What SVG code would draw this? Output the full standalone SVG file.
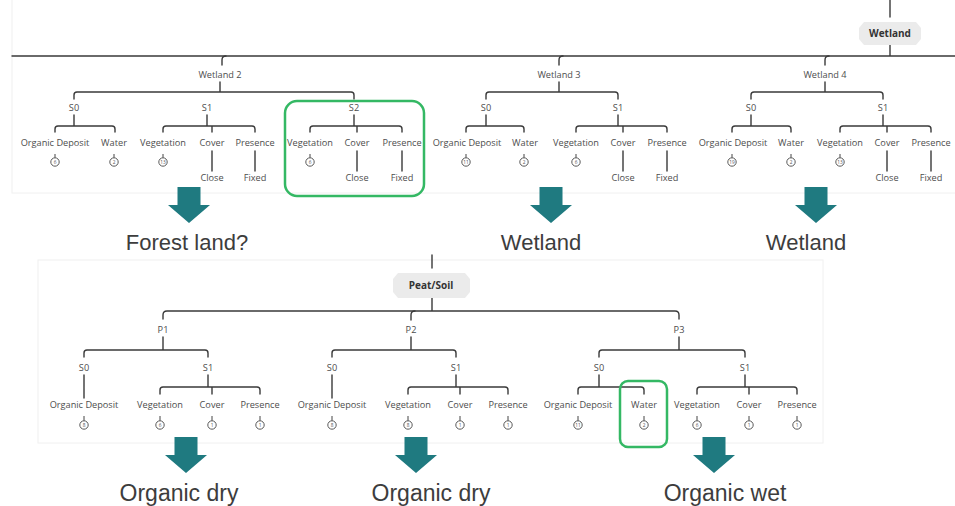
<svg xmlns="http://www.w3.org/2000/svg" xmlns:xlink="http://www.w3.org/1999/xlink" width="955" height="506" viewBox="0 0 955 506">
<style>
.ln{fill:none;stroke:#3a3a3a;stroke-width:1.4;stroke-linecap:round}
.lbl{font-family:"Open Sans","Liberation Sans",sans-serif;font-size:9.2px;fill:#4d4d4d;text-anchor:middle}
.num line{stroke:#444;stroke-width:1}
.num circle{fill:#fff;stroke:#5a5a5a;stroke-width:1}
.nt{font-family:"Open Sans","Liberation Sans",sans-serif;font-size:4.8px;fill:#555;text-anchor:middle}
.hex{fill:#ebebeb}
.hl{font-family:"Open Sans","Liberation Sans",sans-serif;font-weight:700;font-size:10px;fill:#333;text-anchor:middle}
.arrow{fill:#1f7a80}
.big{font-family:"Liberation Sans",Arial,sans-serif;font-size:22px;fill:#3d3d3d;text-anchor:middle}
.big2{font-family:"Liberation Sans",Arial,sans-serif;font-size:23px;fill:#3d3d3d;text-anchor:middle}
.hi{fill:none;stroke:#34b864;stroke-width:2.5}
.panel{fill:#fff;stroke:#f0f0f0;stroke-width:1}
</style>
<defs>
<polygon id="arr" points="-11.5,0 11.5,0 11.5,18 21,18 0,36 -21,18 -11.5,18"/>
</defs>
<rect width="955" height="506" fill="#fff"/>
<rect class="panel" x="12" y="-1" width="944" height="194"/>
<rect class="panel" x="38" y="260" width="785" height="183"/>

<!-- connectors -->
<g id="connectors" class="ln">
<!-- wetland tree -->
<path d="M890 0V17M890 45V56M12 56H955"/>
<path d="M226 56Q222 56 222 60V65M563 56Q559 56 559 60V65M829 56Q825 56 825 60V65"/>
<!-- Wetland 2 -->
<path d="M220 82V92M74 99V95Q74 92 77 92H351Q354 92 354 95V99"/>
<path d="M74 115V126M55 132V129Q55 126 58 126H112Q115 126 115 129V132"/>
<path d="M207 115V126M163 132V129Q163 126 166 126H252Q255 126 255 129V132M212 126V132"/>
<path d="M354 115V126M310 132V129Q310 126 313 126H399Q402 126 402 129V132M357 126V132"/>
<path d="M212 151V171M255 151V171M357 151V171M402 151V171"/>
<!-- Wetland 3 -->
<path d="M559 82V92M486 99V95Q486 92 489 92H615Q618 92 618 95V99"/>
<path d="M486 115V126M466 132V129Q466 126 469 126H521Q524 126 524 129V132"/>
<path d="M618 115V126M576 132V129Q576 126 579 126H664Q667 126 667 129V132M623 126V132"/>
<path d="M623 151V171M667 151V171"/>
<!-- Wetland 4 -->
<path d="M825 82V92M751 99V95Q751 92 754 92H880Q883 92 883 95V99"/>
<path d="M751 115V126M732 132V129Q732 126 735 126H788Q791 126 791 129V132"/>
<path d="M883 115V126M840 132V129Q840 126 843 126H928Q931 126 931 129V132M887 126V132"/>
<path d="M887 151V171M931 151V171"/>
<!-- peat/soil tree -->
<path d="M432 255V268M432 298V311M163 319V315Q163 311 167 311H675Q679 311 679 315V319"/>
<path d="M415 311Q411 311 411 315V320"/>
<!-- P1 -->
<path d="M163 337V350M84 357V353Q84 350 87 350H205Q208 350 208 353V357"/>
<path d="M84 375V398M208 375V387M160 394V390Q160 387 163 387H257Q260 387 260 390V394M212 387V394"/>
<!-- P2 -->
<path d="M411 337V350M332 357V353Q332 350 335 350H453Q456 350 456 353V357"/>
<path d="M332 375V398M456 375V387M408 394V390Q408 387 411 387H505Q508 387 508 390V394M460 387V394"/>
<!-- P3 -->
<path d="M679 337V350M599 357V353Q599 350 602 350H742Q745 350 745 353V357"/>
<path d="M599 375V387M578 394V390Q578 387 581 387H641Q644 387 644 390V394"/>
<path d="M745 375V387M697 394V390Q697 387 700 387H794Q797 387 797 390V394M749 387V394"/>
</g>

<!-- root: Wetland -->
<g id="wetland-root">
<polygon class="hex" points="864,22 916,22 921,28 921,39 916,45 864,45 859,39 859,28"/>
<text class="hl" x="890" y="37">Wetland</text>
</g>

<!-- Wetland 2 -->
<g id="wetland2">
<text class="lbl" x="220" y="78">Wetland 2</text>
<text class="lbl" x="74" y="111">S0</text>
<text class="lbl" x="207" y="111">S1</text>
<text class="lbl" x="354" y="111">S2</text>
<text class="lbl" x="55" y="146">Organic Deposit</text>
<text class="lbl" x="114" y="146">Water</text>
<text class="lbl" x="163" y="146">Vegetation</text>
<text class="lbl" x="212" y="146">Cover</text>
<text class="lbl" x="255" y="146">Presence</text>
<text class="lbl" x="310" y="146">Vegetation</text>
<text class="lbl" x="357" y="146">Cover</text>
<text class="lbl" x="402" y="146">Presence</text>
<text class="lbl" x="212" y="181">Close</text>
<text class="lbl" x="255" y="181">Fixed</text>
<text class="lbl" x="357" y="181">Close</text>
<text class="lbl" x="402" y="181">Fixed</text>
<g class="num"><line x1="55" y1="154" x2="55" y2="158"/><circle cx="55" cy="162" r="4.2"/><text class="nt" x="55" y="163.7">6</text></g>
<g class="num"><line x1="114" y1="154" x2="114" y2="158"/><circle cx="114" cy="162" r="4.2"/><text class="nt" x="114" y="163.7">2</text></g>
<g class="num"><line x1="163" y1="154" x2="163" y2="158"/><circle cx="163" cy="162" r="4.2"/><text class="nt" x="163" y="163.7">13</text></g>
<g class="num"><line x1="310" y1="154" x2="310" y2="158"/><circle cx="310" cy="162" r="4.2"/><text class="nt" x="310" y="163.7">6</text></g>
<rect class="hi" x="285" y="101" width="139" height="95" rx="12"/>
</g>

<!-- Wetland 3 -->
<g id="wetland3">
<text class="lbl" x="559" y="78">Wetland 3</text>
<text class="lbl" x="486" y="111">S0</text>
<text class="lbl" x="618" y="111">S1</text>
<text class="lbl" x="467" y="146">Organic Deposit</text>
<text class="lbl" x="525" y="146">Water</text>
<text class="lbl" x="576" y="146">Vegetation</text>
<text class="lbl" x="623" y="146">Cover</text>
<text class="lbl" x="667" y="146">Presence</text>
<text class="lbl" x="623" y="181">Close</text>
<text class="lbl" x="667" y="181">Fixed</text>
<g class="num"><line x1="466" y1="154" x2="466" y2="158"/><circle cx="466" cy="162" r="4.2"/><text class="nt" x="466" y="163.7">11</text></g>
<g class="num"><line x1="524" y1="154" x2="524" y2="158"/><circle cx="524" cy="162" r="4.2"/><text class="nt" x="524" y="163.7">2</text></g>
<g class="num"><line x1="576" y1="154" x2="576" y2="158"/><circle cx="576" cy="162" r="4.2"/><text class="nt" x="576" y="163.7">6</text></g>
</g>

<!-- Wetland 4 -->
<g id="wetland4">
<text class="lbl" x="825" y="78">Wetland 4</text>
<text class="lbl" x="751" y="111">S0</text>
<text class="lbl" x="883" y="111">S1</text>
<text class="lbl" x="733" y="146">Organic Deposit</text>
<text class="lbl" x="791" y="146">Water</text>
<text class="lbl" x="840" y="146">Vegetation</text>
<text class="lbl" x="887" y="146">Cover</text>
<text class="lbl" x="931" y="146">Presence</text>
<text class="lbl" x="887" y="181">Close</text>
<text class="lbl" x="931" y="181">Fixed</text>
<g class="num"><line x1="732" y1="154" x2="732" y2="158"/><circle cx="732" cy="162" r="4.2"/><text class="nt" x="732" y="163.7">19</text></g>
<g class="num"><line x1="791" y1="154" x2="791" y2="158"/><circle cx="791" cy="162" r="4.2"/><text class="nt" x="791" y="163.7">2</text></g>
<g class="num"><line x1="840" y1="154" x2="840" y2="158"/><circle cx="840" cy="162" r="4.2"/><text class="nt" x="840" y="163.7">13</text></g>
</g>

<!-- outcomes of wetland tree -->
<g id="outcome-w2"><use href="#arr" xlink:href="#arr" class="arrow" x="189" y="187"/><text class="big" x="187" y="250">Forest land?</text></g>
<g id="outcome-w3"><use href="#arr" xlink:href="#arr" class="arrow" x="551" y="187"/><text class="big" x="541" y="250">Wetland</text></g>
<g id="outcome-w4"><use href="#arr" xlink:href="#arr" class="arrow" x="816" y="187"/><text class="big" x="806" y="250">Wetland</text></g>

<!-- root: Peat/Soil -->
<g id="peat-root">
<polygon class="hex" points="398,273 465,273 470,279 470,292 465,298 398,298 393,292 393,279"/>
<text class="hl" x="431" y="289">Peat/Soil</text>
</g>

<!-- P1 -->
<g id="p1">
<text class="lbl" x="163" y="333">P1</text>
<text class="lbl" x="84" y="371">S0</text>
<text class="lbl" x="208" y="371">S1</text>
<text class="lbl" x="84" y="408">Organic Deposit</text>
<text class="lbl" x="160" y="408">Vegetation</text>
<text class="lbl" x="212" y="408">Cover</text>
<text class="lbl" x="260" y="408">Presence</text>
<g class="num"><line x1="84" y1="416" x2="84" y2="421"/><circle cx="84" cy="425" r="4.2"/><text class="nt" x="84" y="426.7">8</text></g>
<g class="num"><line x1="160" y1="416" x2="160" y2="421"/><circle cx="160" cy="425" r="4.2"/><text class="nt" x="160" y="426.7">6</text></g>
<g class="num"><line x1="212" y1="416" x2="212" y2="421"/><circle cx="212" cy="425" r="4.2"/><text class="nt" x="212" y="426.7">1</text></g>
<g class="num"><line x1="260" y1="416" x2="260" y2="421"/><circle cx="260" cy="425" r="4.2"/><text class="nt" x="260" y="426.7">1</text></g>
</g>

<!-- P2 -->
<g id="p2">
<text class="lbl" x="411" y="333">P2</text>
<text class="lbl" x="332" y="371">S0</text>
<text class="lbl" x="456" y="371">S1</text>
<text class="lbl" x="332" y="408">Organic Deposit</text>
<text class="lbl" x="408" y="408">Vegetation</text>
<text class="lbl" x="460" y="408">Cover</text>
<text class="lbl" x="508" y="408">Presence</text>
<g class="num"><line x1="332" y1="416" x2="332" y2="421"/><circle cx="332" cy="425" r="4.2"/><text class="nt" x="332" y="426.7">8</text></g>
<g class="num"><line x1="408" y1="416" x2="408" y2="421"/><circle cx="408" cy="425" r="4.2"/><text class="nt" x="408" y="426.7">8</text></g>
<g class="num"><line x1="460" y1="416" x2="460" y2="421"/><circle cx="460" cy="425" r="4.2"/><text class="nt" x="460" y="426.7">1</text></g>
<g class="num"><line x1="508" y1="416" x2="508" y2="421"/><circle cx="508" cy="425" r="4.2"/><text class="nt" x="508" y="426.7">1</text></g>
</g>

<!-- P3 -->
<g id="p3">
<text class="lbl" x="679" y="333">P3</text>
<text class="lbl" x="599" y="371">S0</text>
<text class="lbl" x="745" y="371">S1</text>
<text class="lbl" x="578" y="408">Organic Deposit</text>
<text class="lbl" x="644" y="408">Water</text>
<text class="lbl" x="697" y="408">Vegetation</text>
<text class="lbl" x="749" y="408">Cover</text>
<text class="lbl" x="797" y="408">Presence</text>
<g class="num"><line x1="578" y1="416" x2="578" y2="421"/><circle cx="578" cy="425" r="4.2"/><text class="nt" x="578" y="426.7">11</text></g>
<g class="num"><line x1="644" y1="416" x2="644" y2="421"/><circle cx="644" cy="425" r="4.2"/><text class="nt" x="644" y="426.7">2</text></g>
<g class="num"><line x1="697" y1="416" x2="697" y2="421"/><circle cx="697" cy="425" r="4.2"/><text class="nt" x="697" y="426.7">6</text></g>
<g class="num"><line x1="749" y1="416" x2="749" y2="421"/><circle cx="749" cy="425" r="4.2"/><text class="nt" x="749" y="426.7">1</text></g>
<g class="num"><line x1="797" y1="416" x2="797" y2="421"/><circle cx="797" cy="425" r="4.2"/><text class="nt" x="797" y="426.7">1</text></g>
<rect class="hi" x="620" y="381" width="47" height="66" rx="8"/>
</g>

<!-- outcomes of peat/soil tree -->
<g id="outcome-p1"><use href="#arr" xlink:href="#arr" class="arrow" x="186" y="437"/><text class="big2" x="179" y="501">Organic dry</text></g>
<g id="outcome-p2"><use href="#arr" xlink:href="#arr" class="arrow" x="416" y="437"/><text class="big2" x="431" y="501">Organic dry</text></g>
<g id="outcome-p3"><use href="#arr" xlink:href="#arr" class="arrow" x="714" y="437"/><text class="big2" x="725" y="501">Organic wet</text></g>
</svg>
